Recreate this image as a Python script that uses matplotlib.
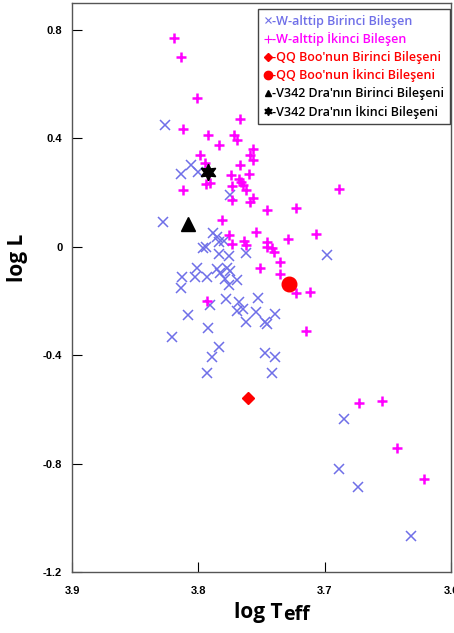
import matplotlib
matplotlib.use('Agg')
import matplotlib.pyplot as plt
from matplotlib.lines import Line2D

plt.rcParams['font.family'] = ['Liberation Sans', 'DejaVu Sans']

# W-subtype primary components (blue x)
w_pri_teff = [3.826, 3.814, 3.806, 3.800, 3.775, 3.828, 3.788, 3.785, 3.796, 3.794,
              3.784, 3.780, 3.784, 3.776, 3.762, 3.801, 3.813, 3.814, 3.803, 3.793,
              3.785, 3.783, 3.777, 3.775, 3.779, 3.769, 3.776, 3.791, 3.778, 3.768,
              3.769, 3.765, 3.762, 3.753, 3.754, 3.747, 3.746, 3.739, 3.808, 3.792,
              3.821, 3.784, 3.789, 3.793, 3.747, 3.739, 3.742, 3.698, 3.685, 3.689,
              3.674, 3.632]
w_pri_logl = [0.450, 0.270, 0.303, 0.277, 0.192, 0.093, 0.052, 0.038, -0.003, 0.001,
              0.019, 0.023, -0.025, -0.032, -0.021, -0.077, -0.113, -0.150, -0.113, -0.113,
              -0.080, -0.095, -0.077, -0.088, -0.117, -0.121, -0.139, -0.213, -0.191, -0.202,
              -0.235, -0.228, -0.279, -0.187, -0.242, -0.279, -0.283, -0.246, -0.253, -0.301,
              -0.334, -0.371, -0.408, -0.467, -0.390, -0.408, -0.467, -0.029, -0.636, -0.821,
              -0.887, -1.067]

# W-subtype secondary components (magenta +)
w_sec_teff = [3.819, 3.814, 3.801, 3.767, 3.812, 3.792, 3.772, 3.769, 3.784, 3.757,
              3.799, 3.759, 3.757, 3.795, 3.767, 3.774, 3.760, 3.768, 3.766, 3.765,
              3.794, 3.791, 3.773, 3.762, 3.812, 3.757, 3.759, 3.773, 3.746, 3.723,
              3.689, 3.781, 3.776, 3.754, 3.773, 3.764, 3.762, 3.746, 3.746, 3.742,
              3.740, 3.729, 3.707, 3.735, 3.751, 3.735, 3.723, 3.712, 3.793, 3.715,
              3.673, 3.655, 3.643, 3.621]
w_sec_logl = [0.771, 0.701, 0.550, 0.472, 0.435, 0.413, 0.413, 0.395, 0.376, 0.362,
              0.340, 0.340, 0.321, 0.310, 0.303, 0.266, 0.270, 0.251, 0.240, 0.229,
              0.233, 0.236, 0.225, 0.211, 0.211, 0.181, 0.166, 0.174, 0.137, 0.144,
              0.214, 0.100, 0.045, 0.056, 0.012, 0.023, 0.008, 0.019, 0.001, -0.003,
              -0.018, 0.030, 0.049, -0.055, -0.077, -0.102, -0.172, -0.165, -0.198, -0.309,
              -0.578, -0.570, -0.743, -0.857]

# QQ Boo
qq_pri_teff = [3.761]
qq_pri_logl = [-0.559]
qq_sec_teff = [3.728]
qq_sec_logl = [-0.136]

# V342 Dra
v_pri_teff = [3.808]
v_pri_logl = [0.085]
v_sec_teff = [3.792]
v_sec_logl = [0.277]

legend_labels = ['-W-alttip Birinci Bileşen', '-W-alttip İkinci Bileşen',
                 "-QQ Boo'nun Birinci Bileşeni", "-QQ Boo'nun İkinci Bileşeni",
                 "-V342 Dra'nın Birinci Bileşeni", "-V342 Dra'nın İkinci Bileşeni"]
x_ticks = [3.9, 3.8, 3.7, 3.6]
x_tick_labels = ['3.9', '3.8', '3.7', '3.6']
y_ticks = [-1.2, -0.8, -0.4, 0.0, 0.4, 0.8]
y_tick_labels = ['-1.2', '-0.8', '-0.4', '0', '0.4', '0.8']

BLUE = '#6f6fe8'
MAG = '#ff00ff'
RED = '#ff0000'

W, H = 454, 633
fig = plt.figure(figsize=(W / 100, H / 100), dpi=100)
ax = fig.add_axes([72 / W, 1 - 572 / H, (451 - 72) / W, (572 - 3) / H])

ax.plot(w_pri_teff, w_pri_logl, linestyle='none', marker='x', color=BLUE,
        markersize=7.3, markeredgewidth=1.1)
ax.plot(w_sec_teff, w_sec_logl, linestyle='none', marker='+', color=MAG,
        markersize=7.8, markeredgewidth=1.8)
ax.plot(qq_pri_teff, qq_pri_logl, linestyle='none', marker='D', color=RED,
        markersize=6.5)
ax.plot(qq_sec_teff, qq_sec_logl, linestyle='none', marker='o', color=RED,
        markersize=10.5)
ax.plot(v_pri_teff, v_pri_logl, linestyle='none', marker='^', color='black',
        markersize=10)
ax.plot(v_sec_teff, v_sec_logl, linestyle='none', marker=(6, 1, 0), color='black',
        markersize=12)

ax.set_xlim(3.9, 3.6)
ax.set_ylim(-1.2, 0.9)
ax.set_xticks(x_ticks)
ax.set_xticklabels(x_tick_labels)
ax.set_yticks(y_ticks)
ax.set_yticklabels(y_tick_labels)
ax.tick_params(direction='in', length=7, width=0.8, labelsize=8, colors='black')
ax.tick_params(axis='x', pad=10)
ax.tick_params(axis='y', pad=7)
for lab in ax.get_xticklabels() + ax.get_yticklabels():
    lab.set_fontweight('bold')
for sp in ax.spines.values():
    sp.set_color('#555555')
    sp.set_linewidth(1.0)

# axis labels
fig.text(18 / W, 1 - 258 / H, 'log L', rotation=90, ha='center', va='center',
         fontsize=15, fontweight='bold', family=['Open Sans', 'DejaVu Sans'])
fig.text(283 / W, 1 - 618 / H, 'log T', ha='right', va='baseline',
         fontsize=15, fontweight='bold', family=['Open Sans', 'DejaVu Sans'])
fig.text(283 / W, 1 - 620 / H, 'eff', ha='left', va='baseline',
         fontsize=14, fontweight='bold', family=['Open Sans', 'DejaVu Sans'])

# legend
handles = [
    Line2D([], [], linestyle='none', marker='x', color=BLUE, markersize=5, markeredgewidth=0.8),
    Line2D([], [], linestyle='none', marker='+', color=MAG, markersize=5.5, markeredgewidth=0.8),
    Line2D([], [], linestyle='none', marker='D', color=RED, markersize=4),
    Line2D([], [], linestyle='none', marker='o', color=RED, markersize=6),
    Line2D([], [], linestyle='none', marker='^', color='black', markersize=5),
    Line2D([], [], linestyle='none', marker=(6, 1, 0), color='black', markersize=6),
]
leg = ax.legend(handles, legend_labels, loc='upper right',
                bbox_to_anchor=(1 - 1.5 / 379, 1 - 6 / 569), borderaxespad=0,
                handlelength=0.6, handletextpad=0.05, labelspacing=0.37,
                borderpad=0.45, fancybox=False, framealpha=1,
                prop={'family': ['Open Sans', 'DejaVu Sans'], 'size': 9,
                      'weight': 'semibold'})
leg.get_frame().set_edgecolor('#444444')
leg.get_frame().set_linewidth(1.0)
text_colors = [BLUE, MAG, RED, RED, 'black', 'black']
for t, c in zip(leg.get_texts(), text_colors):
    t.set_color(c)

fig.savefig('out.png', dpi=100)
